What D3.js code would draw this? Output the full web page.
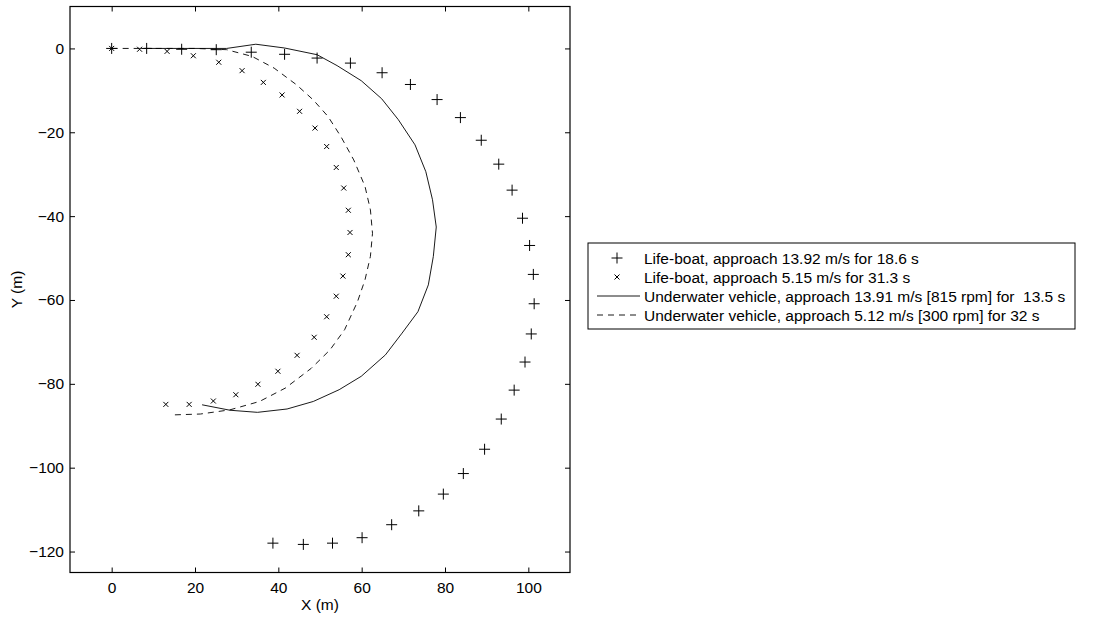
<!DOCTYPE html>
<html><head><meta charset="utf-8">
<script src="https://cdn.jsdelivr.net/npm/d3@7"></script>
<style>body{margin:0;background:#fff}svg{display:block}text{font-family:"Liberation Sans",Arial,sans-serif;white-space:pre}</style>
</head><body>
<script>
// Life-boat, approach 13.92 m/s (+ markers)
const plusX = [0,8.4,16.8,25.1,33.5,41.5,49.3,57.3,64.9,71.7,78.1,83.7,88.7,92.9,96.1,98.6,100.3,101.2,101.4,100.7,99.2,96.6,93.5,89.5,84.4,79.6,73.7,67.2,60.1,53.0,46.0,38.7];
const plusY = [0,0,-0.2,-0.3,-0.9,-1.4,-2.3,-3.5,-5.8,-8.6,-12.2,-16.5,-21.9,-27.6,-33.8,-40.5,-47.0,-53.9,-60.9,-68.1,-74.8,-81.5,-88.4,-95.6,-101.4,-106.3,-110.3,-113.6,-116.7,-118.0,-118.3,-118.0];
// Life-boat, approach 5.15 m/s (x markers)
const crossX = [0,6.7,13.3,19.6,25.7,31.3,36.4,40.9,45.1,48.8,51.6,53.9,55.7,56.8,57.2,56.8,55.5,53.9,51.6,48.6,44.5,39.9,35.1,29.8,24.4,18.6,13.0];
const crossY = [0,-0.2,-0.7,-1.75,-3.3,-5.3,-8.1,-11.1,-15.0,-19.0,-23.4,-28.4,-33.3,-38.6,-43.9,-49.2,-54.3,-59.1,-64.0,-68.9,-73.2,-77.0,-80.1,-82.6,-84.1,-84.9,-84.9];
// Underwater vehicle 13.91 m/s (solid)
const solidX = [7.6,16,27.6,34.6,41.5,49.3,54.1,59.9,64.8,68.8,72.8,75.4,77.0,77.9,77.2,76.0,73.5,69.7,65.7,59.9,54.6,48.4,42.1,35.0,28.4,21.7];
const solidY = [0,0,0,1.0,0.1,-1.5,-4.1,-7.7,-12.0,-17.0,-23.0,-29.4,-36.1,-42.6,-49.6,-56.4,-62.8,-67.9,-73.1,-78.2,-81.4,-84.2,-86.0,-86.8,-86.3,-85.0];
// Underwater vehicle 5.12 m/s (dashed)
const dashX = [0,10,20,27.6,33.7,39.0,44.4,48.4,51.9,55.0,58.1,60.8,62.1,62.6,62.1,60.8,59.0,55.9,52.4,47.9,41.7,35.5,28.4,21.3,15.1];
const dashY = [0,0,0,-0.3,-1.9,-4.7,-8.7,-12.3,-16.2,-21.0,-26.6,-32.9,-38.5,-44.1,-49.6,-55.2,-60.4,-67.1,-71.9,-76.3,-81.0,-84.2,-86.2,-87.2,-87.4];
const xTicks = [0,20,40,60,80,100];
const yTicks = [0,-20,-40,-60,-80,-100,-120];
const legendLabels = [
  "Life-boat, approach 13.92 m/s for 18.6 s",
  "Life-boat, approach 5.15 m/s for 31.3 s",
  "Underwater vehicle, approach 13.91 m/s [815 rpm] for  13.5 s",
  "Underwater vehicle, approach 5.12 m/s [300 rpm] for 32 s"
];

const W=1102,H=620,FS=15.5;
const svg=d3.select("body").append("svg").attr("width",W).attr("height",H);
const L=70,R=570,T=6.5,B=572.5;
const x=d3.scaleLinear().domain([-10,110]).range([L,R]);
const y=d3.scaleLinear().domain([-125,10]).range([B,T]);

const g=svg.append("g");
g.append("g").attr("transform",`translate(0,${B})`).call(d3.axisBottom(x).tickValues(xTicks).tickSize(-5).tickPadding(9));
g.append("g").attr("transform",`translate(0,${T})`).call(d3.axisTop(x).tickValues(xTicks).tickSize(-5).tickFormat(""));
g.append("g").attr("transform",`translate(${L},0)`).call(d3.axisLeft(y).tickValues(yTicks).tickSize(-5).tickPadding(6));
g.append("g").attr("transform",`translate(${R},0)`).call(d3.axisRight(y).tickValues(yTicks).tickSize(-5).tickFormat(""));
g.selectAll(".domain").remove();
g.selectAll(".tick line").attr("stroke","#000");
g.selectAll(".tick text").attr("font-size",FS).attr("fill","#000").attr("font-family","Liberation Sans, Arial, sans-serif");
svg.append("rect").attr("x",L).attr("y",T).attr("width",R-L).attr("height",B-T).attr("fill","none").attr("stroke","#000").attr("stroke-width",1.2);

svg.append("text").attr("x",(L+R)/2).attr("y",610).attr("text-anchor","middle").attr("font-size",FS).text("X (m)");
svg.append("text").attr("transform",`translate(22,${(T+B)/2}) rotate(-90)`).attr("text-anchor","middle").attr("font-size",FS).text("Y (m)");

const line=d3.line().x(d=>x(d[0])).y(d=>y(d[1]));
const solid=solidX.map((v,i)=>[v,solidY[i]]);
const dash=dashX.map((v,i)=>[v,dashY[i]]);
svg.append("path").attr("d",line(dash)).attr("fill","none").attr("stroke","#000").attr("stroke-width",0.9).attr("stroke-dasharray","6,5");
svg.append("path").attr("d",line(solid)).attr("fill","none").attr("stroke","#000").attr("stroke-width",0.9);

function plus(sel,cx,cy,s){sel.append("path").attr("d",`M${cx-s},${cy}H${cx+s}M${cx},${cy-s}V${cy+s}`).attr("stroke","#000").attr("stroke-width",1);}
function cross(sel,cx,cy,s){sel.append("path").attr("d",`M${cx-s},${cy-s}L${cx+s},${cy+s}M${cx-s},${cy+s}L${cx+s},${cy-s}`).attr("stroke","#000").attr("stroke-width",1);}
const mk=svg.append("g");
plusX.forEach((v,i)=>plus(mk,x(v),y(plusY[i]),5.5));
crossX.forEach((v,i)=>cross(mk,x(v),y(crossY[i]),2.5));

// legend
const lg=svg.append("g");
lg.append("rect").attr("x",588).attr("y",243).attr("width",487).attr("height",86).attr("fill","#fff").attr("stroke","#000").attr("stroke-width",1);
const rows=[258,277,296,315];
plus(lg,617,rows[0],5.5);
cross(lg,617,rows[1],2.5);
lg.append("line").attr("x1",597).attr("x2",640).attr("y1",rows[2]).attr("y2",rows[2]).attr("stroke","#000").attr("stroke-width",0.9);
lg.append("line").attr("x1",597).attr("x2",640).attr("y1",rows[3]).attr("y2",rows[3]).attr("stroke","#000").attr("stroke-width",0.9).attr("stroke-dasharray","6,5");
legendLabels.forEach((t,i)=>lg.append("text").attr("x",644).attr("y",rows[i]+5.5).attr("font-size",FS).text(t));
</script>
</body></html>
